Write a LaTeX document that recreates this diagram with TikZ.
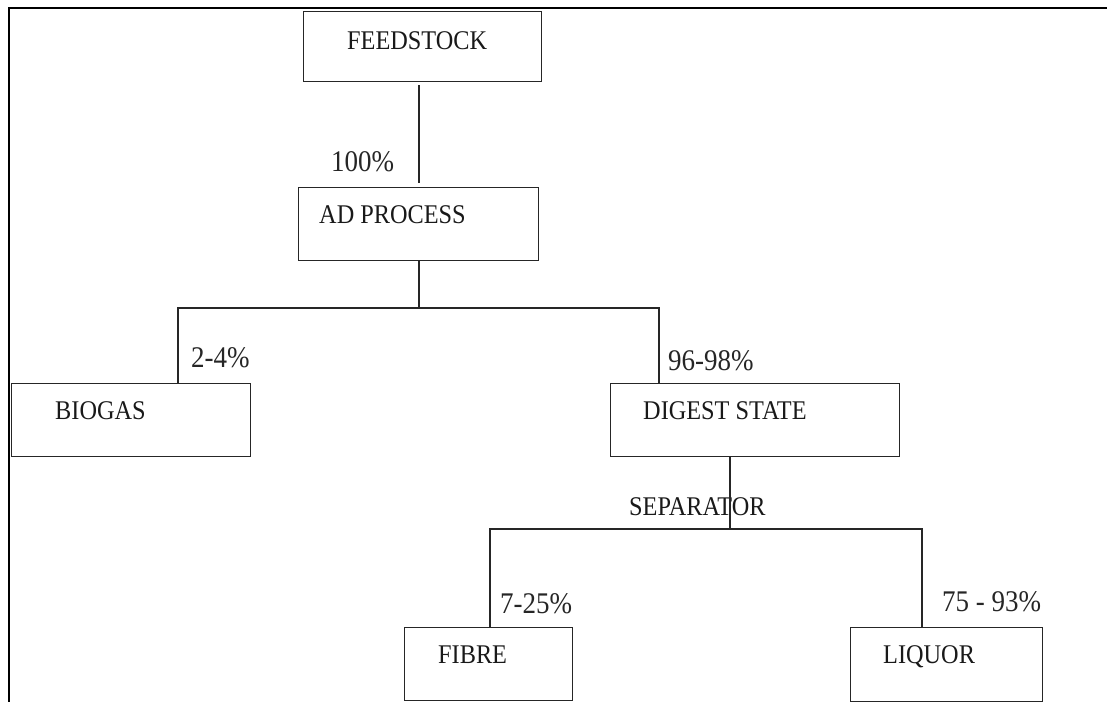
\documentclass[tikz,border=0pt]{standalone}
\usepackage{fontspec}
\setmainfont[FakeStretch=0.9]{Liberation Serif}
\begin{document}
\begin{tikzpicture}[x=1pt,y=-1pt,
  box/.style={draw=black!85, line width=1.2pt, inner sep=0pt, anchor=north west},
  lbl/.style={inner sep=0pt, anchor=base west, text=black!90, font=\fontsize{27}{30}\selectfont},
  pct/.style={inner sep=0pt, anchor=base west, text=black!85, font=\fontsize{30}{33}\selectfont},
  conn/.style={draw=black!85, line width=1.2pt},
  frame/.style={draw=black, line width=1.4pt}]
\useasboundingbox (0,0) rectangle (1107,702);
% frame
\draw[frame] (1107,8) -- (9,8) -- (9,702);
% boxes
\node[box, minimum width=238pt, minimum height=70pt] (feed) at (303,11) {};
\node[box, minimum width=240pt, minimum height=73pt] (ad) at (298,187) {};
\node[box, minimum width=239pt, minimum height=73pt] (biogas) at (11,383) {};
\node[box, minimum width=289pt, minimum height=73pt] (digest) at (610,383) {};
\node[box, minimum width=168pt, minimum height=73pt] (fibre) at (404,627) {};
\node[box, minimum width=192pt, minimum height=74pt] (liquor) at (850,627) {};
% texts
\node[lbl] (tfeed) at (347,49) {FEEDSTOCK};
\node[lbl] (tad) at (319,223) {AD PROCESS};
\node[lbl] (tbio) at (55,419) {BIOGAS};
\node[lbl] (tdig) at (643,419) {DIGEST STATE};
\node[lbl] (tsep) at (629,515) {SEPARATOR};
\node[lbl] (tfib) at (438,663) {FIBRE};
\node[lbl] (tliq) at (883,663) {LIQUOR};
\node[pct] (p100) at (331,171) {100\%};
\node[pct] (p24) at (191,367) {2-4\%};
\node[pct] (p96) at (668,370) {96-98\%};
\node[pct] (p725) at (500,613) {7-25\%};
\node[pct] (p7593) at (942,611) {75 - 93\%};
% junction coordinates
\coordinate (c1) at (419,308);
\coordinate (lb) at (178,308);
\coordinate (rb) at (659,308);
\coordinate (c2) at (730,529);
\coordinate (lf) at (490,529);
\coordinate (rl) at (922,529);
% connectors
\draw[conn] ([yshift=-3pt]feed.south -| c1) -- ([yshift=4pt]ad.north -| c1);
\draw[conn] (ad.south -| c1) -- (c1);
\draw[conn] (biogas.north -| lb) -- (lb) -- (rb) -- (digest.north -| rb);
\draw[conn] (digest.south -| c2) -- (c2);
\draw[conn] (fibre.north -| lf) -- (lf) -- (rl) -- (liquor.north -| rl);
\end{tikzpicture}
\end{document}
